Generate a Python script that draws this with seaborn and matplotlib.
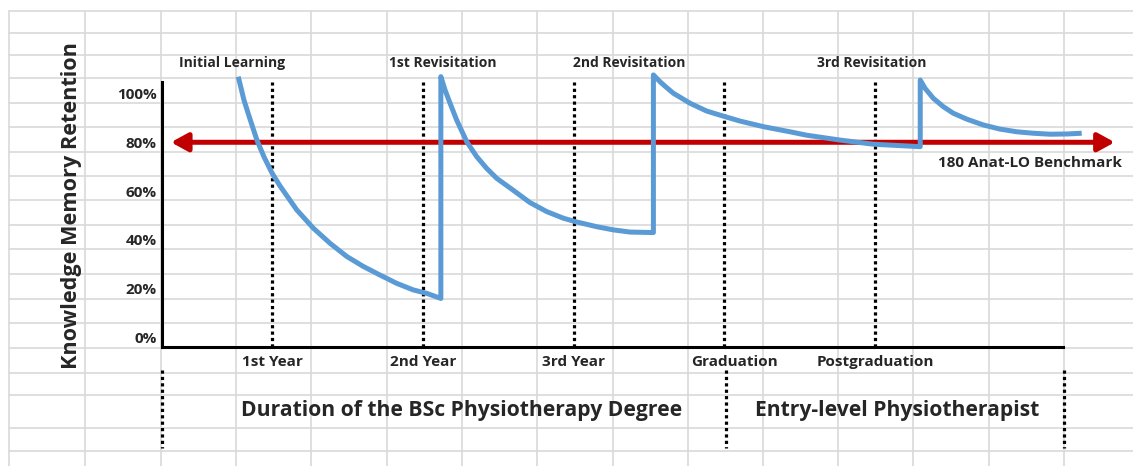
import matplotlib.pyplot as plt
import seaborn as sns
from matplotlib.lines import Line2D
from matplotlib.transforms import blended_transform_factory, ScaledTranslation

# retention curve (x: 1 = 1st Year ... 5 = Postgraduation)
time_pts = [0.776, 0.814, 0.854, 0.900, 0.947, 1.000, 1.053, 1.164, 1.274, 1.385,
            1.496, 1.606, 1.716, 1.827, 1.937, 2.026, 2.12,
            2.12, 2.148, 2.181, 2.225, 2.292, 2.358, 2.424, 2.491, 2.601, 2.711,
            2.822, 2.932, 3.010, 3.154, 3.264, 3.375, 3.53,
            3.53, 3.574, 3.618, 3.662, 3.773, 3.883, 4.005, 4.104, 4.259, 4.436,
            4.546, 4.768, 4.989, 5.30,
            5.30, 5.332, 5.387, 5.453, 5.519, 5.608, 5.718, 5.829, 5.940, 6.050,
            6.161, 6.272, 6.371]
retention = [106.9, 97.3, 89.5, 80.9, 74.0, 67.4, 62.1, 52.3, 44.8, 38.6,
             33.2, 29.1, 25.6, 22.2, 19.5, 18.1, 16.0,
             106.9, 101.4, 96.0, 89.1, 80.2, 74.1, 69.3, 65.2, 60.3, 55.3,
             51.6, 48.9, 47.5, 45.4, 44.1, 43.2, 43.0,
             107.6, 104.8, 102.4, 100.1, 96.0, 92.8, 90.5, 88.7, 86.4, 84.3,
             82.9, 80.9, 79.2, 78.2,
             105.5, 102.1, 98.0, 94.6, 91.9, 89.5, 87.1, 85.4, 84.3, 83.7,
             83.3, 83.4, 83.7]

benchmark = 80
benchmark_label = "180 Anat-LO Benchmark"

year_pos = [1, 2, 3, 4, 5]
year_labels = ["1st Year", "2nd Year", "3rd Year", "Graduation", "Postgraduation"]
pct_ticks = [0, 20, 40, 60, 80, 100]
pct_labels = ["0%", "20%", "40%", "60%", "80%", "100%"]

event_labels = ["Initial Learning", "1st Revisitation", "2nd Revisitation", "3rd Revisitation"]
event_pos = [0.735, 2.134, 3.37, 4.98]

period_labels = ["Duration of the BSc Physiotherapy Degree", "Entry-level Physiotherapist"]
period_pos = [2.26, 5.15]

sns.set_style("white")
plt.rcParams["font.family"] = ["Open Sans", "DejaVu Sans"]
plt.rcParams["font.weight"] = "bold"

W, H = 1133, 466
fig = plt.figure(figsize=(W / 100, H / 100), dpi=100, facecolor="white")

# spreadsheet cell grid behind everything
col_x = [9, 85, 161, 236, 311, 387, 462, 537, 613, 688, 763, 838, 913, 989, 1064]
row_y = [11, 33, 55, 78, 103, 127, 152, 176, 200, 225, 249, 274, 299, 323,
         348, 373, 395, 428, 451]
for px in col_x:
    fig.add_artist(Line2D([px / W, px / W], [1 - 11 / H, 0], color="#d9d9d9",
                          lw=1.2, zorder=-1))
for py in row_y:
    fig.add_artist(Line2D([9 / W, 1], [1 - py / H, 1 - py / H], color="#d9d9d9",
                          lw=1.2, zorder=-1))

ax = fig.add_axes([162 / W, (H - 347) / H, (1063 - 162) / W, (347 - 82) / H])
ax.patch.set_alpha(0)
ax.set_xlim(0.2703, 6.247)
ax.set_ylim(-3.9, 104.7)

for s in ["top", "right"]:
    ax.spines[s].set_visible(False)
for s in ["left", "bottom"]:
    ax.spines[s].set_color("black")
    ax.spines[s].set_linewidth(2.2)

for xv in year_pos:
    ax.axvline(xv, color="black", lw=2.3, ls=(0, (1, 1)), zorder=1)

ax.annotate("", xy=(6.59, benchmark), xytext=(0.33, benchmark),
            arrowprops=dict(arrowstyle="<|-|>,head_length=1.0,head_width=0.55",
                            color="#c00000", lw=3.6, shrinkA=0, shrinkB=0,
                            mutation_scale=10),
            annotation_clip=False, zorder=2)

sns.lineplot(x=time_pts, y=retention, sort=False, estimator=None, ax=ax,
             color="#5b9bd5", lw=3.6, clip_on=False, zorder=3,
             solid_joinstyle="round", solid_capstyle="butt")

ax.set_yticks(pct_ticks)
ax.set_yticklabels(pct_labels, fontsize=11, fontweight="bold")
ax.set_xticks(year_pos)
ax.set_xticklabels(year_labels, fontsize=11, fontweight="bold")
ax.tick_params(axis="x", length=0, pad=6)
ax.tick_params(axis="y", length=0, pad=4)
ax.get_xticklabels()[3].set_transform(
    ax.get_xticklabels()[3].get_transform() + ScaledTranslation(0.1, 0, fig.dpi_scale_trans))

tr = blended_transform_factory(ax.transData, ax.transAxes)
for lbl, xv in zip(event_labels, event_pos):
    ax.text(xv, 1.072, lbl, transform=tr, ha="center", va="center",
            fontsize=10, fontweight="bold")

ax.text(6.03, 71.5, benchmark_label, ha="center", va="center",
        fontsize=11, fontweight="bold", clip_on=False)

for lbl, xv in zip(period_labels, period_pos):
    ax.text(xv, -0.238, lbl, transform=tr, ha="center", va="center",
            fontsize=15.2, fontweight="bold")

for xv in [0.2703, 4.01, 6.255]:
    ax.plot([xv, xv], [-0.087, -0.38], transform=tr, color="black", lw=2.3,
            ls=(0, (1, 1)), clip_on=False)

fig.text(72 / W, 1 - 206 / H, "Knowledge Memory Retention", rotation=90,
         ha="center", va="center", fontsize=15.6, fontweight="bold")

ax.set_xlabel("")
ax.set_ylabel("")
fig.savefig("out.png", dpi=100, facecolor="white")
